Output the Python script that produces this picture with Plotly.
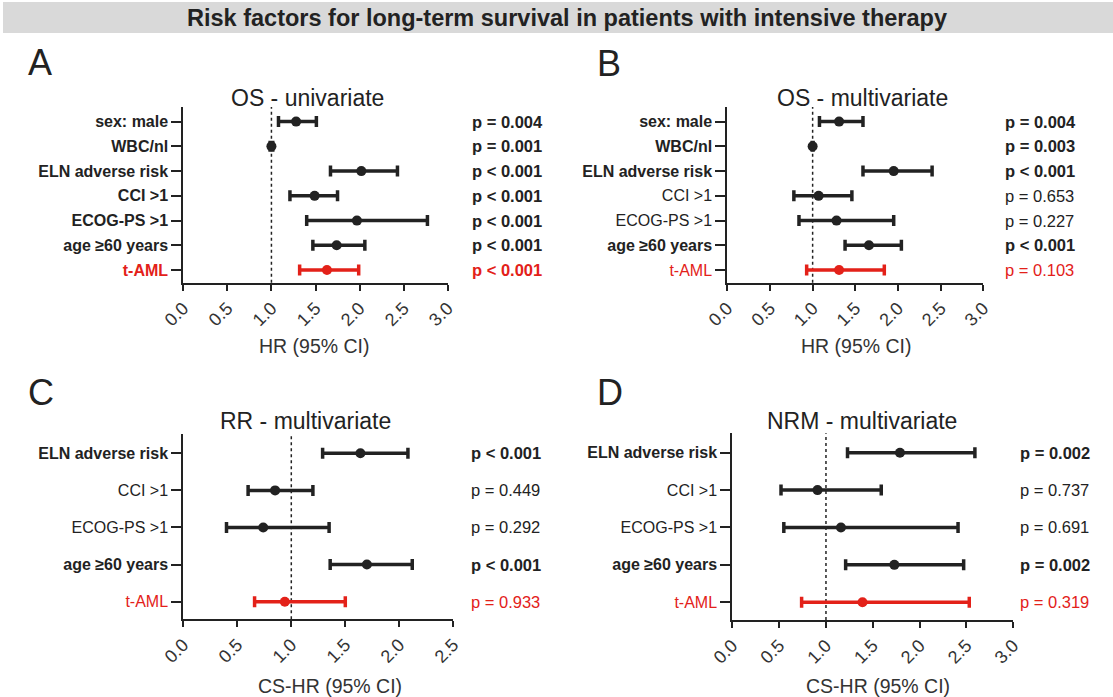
import plotly.graph_objects as go

W, H = 1113, 697
BLACK = "#222222"
RED = "#e32119"
FONT = "Liberation Sans, Arial, Helvetica, sans-serif"

# ---------------- data ----------------
A_labels = ["sex: male", "WBC/nl", "ELN adverse risk", "CCI >1", "ECOG-PS >1", "age ≥60 years", "t-AML"]
A_hr = [1.28, 1.00, 2.02, 1.49, 1.97, 1.74, 1.63]
A_lo = [1.08, 0.985, 1.67, 1.21, 1.40, 1.47, 1.32]
A_hi = [1.51, 1.015, 2.43, 1.75, 2.77, 2.06, 1.99]
A_p = ["p = 0.004", "p = 0.001", "p < 0.001", "p < 0.001", "p < 0.001", "p < 0.001", "p < 0.001"]
A_bold = [True, True, True, True, True, True, True]

B_labels = ["sex: male", "WBC/nl", "ELN adverse risk", "CCI >1", "ECOG-PS >1", "age ≥60 years", "t-AML"]
B_hr = [1.31, 1.00, 1.95, 1.07, 1.28, 1.66, 1.31]
B_lo = [1.08, 0.995, 1.59, 0.78, 0.84, 1.38, 0.93]
B_hi = [1.59, 1.005, 2.40, 1.46, 1.95, 2.04, 1.84]
B_p = ["p = 0.004", "p = 0.003", "p < 0.001", "p = 0.653", "p = 0.227", "p < 0.001", "p = 0.103"]
B_bold = [True, True, True, False, False, True, False]

C_labels = ["ELN adverse risk", "CCI >1", "ECOG-PS >1", "age ≥60 years", "t-AML"]
C_hr = [1.64, 0.85, 0.74, 1.70, 0.94]
C_lo = [1.29, 0.60, 0.40, 1.36, 0.66]
C_hi = [2.08, 1.20, 1.35, 2.12, 1.50]
C_p = ["p < 0.001", "p = 0.449", "p = 0.292", "p < 0.001", "p = 0.933"]
C_bold = [True, False, False, True, False]

D_labels = ["ELN adverse risk", "CCI >1", "ECOG-PS >1", "age ≥60 years", "t-AML"]
D_hr = [1.79, 0.91, 1.16, 1.73, 1.39]
D_lo = [1.23, 0.52, 0.55, 1.21, 0.74]
D_hi = [2.59, 1.59, 2.41, 2.47, 2.53]
D_p = ["p = 0.002", "p = 0.737", "p = 0.691", "p = 0.002", "p = 0.319"]
D_bold = [True, False, False, True, False]

RED_LABEL = "t-AML"

panels = [
    dict(labels=A_labels, hr=A_hr, lo=A_lo, hi=A_hi, p=A_p, bold=A_bold, xmax=3.0,
         xd=(183.3, 447.7), yd=(107, 282.7), yr=(-0.51, 6.59),
         title="OS - univariate", title_xy=(307, 98), xtitle="HR (95% CI)", xtitle_xy=(314.5, 346),
         p_x=470, letter="A", letter_xy=(26, 63)),
    dict(labels=B_labels, hr=B_hr, lo=B_lo, hi=B_hi, p=B_p, bold=B_bold, xmax=3.0,
         xd=(727.3, 983.3), yd=(107, 282.7), yr=(-0.51, 6.59),
         title="OS - multivariate", title_xy=(862, 98), xtitle="HR (95% CI)", xtitle_xy=(856, 346),
         p_x=1003, letter="B", letter_xy=(595, 64)),
    dict(labels=C_labels, hr=C_hr, lo=C_lo, hi=C_hi, p=C_p, bold=C_bold, xmax=2.5,
         xd=(183.3, 453.3), yd=(434, 619.3), yr=(-0.475, 4.52),
         title="RR - multivariate", title_xy=(305, 421), xtitle="CS-HR (95% CI)", xtitle_xy=(330, 686),
         p_x=469, letter="C", letter_xy=(26, 392)),
    dict(labels=D_labels, hr=D_hr, lo=D_lo, hi=D_hi, p=D_p, bold=D_bold, xmax=3.0,
         xd=(732.3, 1013.3), yd=(433.3, 620), yr=(-0.475, 4.52),
         title="NRM - multivariate", title_xy=(862, 421), xtitle="CS-HR (95% CI)", xtitle_xy=(878, 686),
         p_x=1018, letter="D", letter_xy=(595, 392)),
]


def fx(px):
    return px / W


def fy(py):
    return 1 - py / H


def styled(text, bold, red):
    t = f"<b>{text}</b>" if bold else text
    if red:
        t = f"<span style='color:{RED}'>{t}</span>"
    return t


fig = go.Figure()
annotations = []
shapes = []

# title band
shapes.append(dict(type="rect", xref="paper", yref="paper", x0=fx(3), x1=1.0, y0=fy(33), y1=fy(2),
                   fillcolor="#d9d9d9", line=dict(width=0), layer="below"))
annotations.append(dict(text="<b>Risk factors for long-term survival in patients with intensive therapy</b>",
                        xref="paper", yref="paper", x=fx(567), y=fy(18), showarrow=False,
                        xanchor="center", yanchor="middle",
                        font=dict(family=FONT, size=23.5, color=BLACK)))

for k, pn in enumerate(panels, start=1):
    xa = "x" if k == 1 else f"x{k}"
    ya = "y" if k == 1 else f"y{k}"
    n = len(pn["labels"])
    ys = [n - 1 - i for i in range(n)]
    colors = [RED if lab == RED_LABEL else BLACK for lab in pn["labels"]]
    for i in range(n):
        fig.add_trace(go.Scatter(
            x=[pn["hr"][i]], y=[ys[i]], mode="markers", xaxis=xa, yaxis=ya,
            marker=dict(size=10, color=colors[i]),
            error_x=dict(type="data", symmetric=False,
                         array=[pn["hi"][i] - pn["hr"][i]],
                         arrayminus=[pn["hr"][i] - pn["lo"][i]],
                         color=colors[i], thickness=3.5, width=5.5),
            showlegend=False, hoverinfo="skip"))

    ticktext = [styled(lab, b, lab == RED_LABEL) for lab, b in zip(pn["labels"], pn["bold"])]
    fig.update_layout(**{
        ("xaxis" if k == 1 else f"xaxis{k}"): dict(
            domain=[fx(pn["xd"][0]), fx(pn["xd"][1])], anchor=ya, automargin=False,
            range=[0, pn["xmax"]], tickvals=[v * 0.5 for v in range(int(pn["xmax"] * 2) + 1)],
            tickformat=".1f", tickangle=-45, ticks="outside", ticklen=6, tickwidth=2,
            tickcolor=BLACK, showline=True, linewidth=2, linecolor=BLACK,
            showgrid=False, zeroline=False,
            tickfont=dict(family=FONT, size=18, color="#333333")),
        ("yaxis" if k == 1 else f"yaxis{k}"): dict(
            domain=[fy(pn["yd"][1]), fy(pn["yd"][0])], anchor=xa, automargin=False,
            range=list(pn["yr"]), tickvals=ys, ticktext=ticktext,
            ticks="outside", ticklen=10, tickwidth=2, tickcolor=BLACK,
            showline=True, linewidth=2, linecolor=BLACK,
            showgrid=False, zeroline=False,
            tickfont=dict(family=FONT, size=16, color=BLACK)),
    })

    shapes.append(dict(type="line", xref=xa, yref=f"{ya} domain", x0=1, x1=1, y0=0, y1=1,
                       line=dict(color=BLACK, width=1.5, dash="dot"), layer="below"))

    for i in range(n):
        lab = pn["labels"][i]
        annotations.append(dict(
            text=styled(pn["p"][i], pn["bold"][i], lab == RED_LABEL),
            xref="paper", yref=ya, x=fx(pn["p_x"]), y=ys[i], showarrow=False,
            xanchor="left", yanchor="middle",
            font=dict(family=FONT, size=16.5, color=BLACK)))

    annotations.append(dict(text=pn["title"], xref="paper", yref="paper",
                            x=fx(pn["title_xy"][0]), y=fy(pn["title_xy"][1]), showarrow=False,
                            xanchor="center", yanchor="middle",
                            font=dict(family=FONT, size=23, color=BLACK)))
    annotations.append(dict(text=pn["xtitle"], xref="paper", yref="paper",
                            x=fx(pn["xtitle_xy"][0]), y=fy(pn["xtitle_xy"][1]), showarrow=False,
                            xanchor="center", yanchor="middle",
                            font=dict(family=FONT, size=19.5, color="#333333")))
    annotations.append(dict(text=pn["letter"], xref="paper", yref="paper",
                            x=fx(pn["letter_xy"][0]), y=fy(pn["letter_xy"][1]), showarrow=False,
                            xanchor="left", yanchor="middle",
                            font=dict(family=FONT, size=36, color=BLACK)))

fig.update_layout(width=W, height=H, margin=dict(l=0, r=0, t=0, b=0, autoexpand=False),
                  paper_bgcolor="white", plot_bgcolor="white",
                  annotations=annotations, shapes=shapes,
                  font=dict(family=FONT, color=BLACK))

fig.write_html("out.html", config={"displayModeBar": False},
               post_script="document.body.style.margin='0';")
